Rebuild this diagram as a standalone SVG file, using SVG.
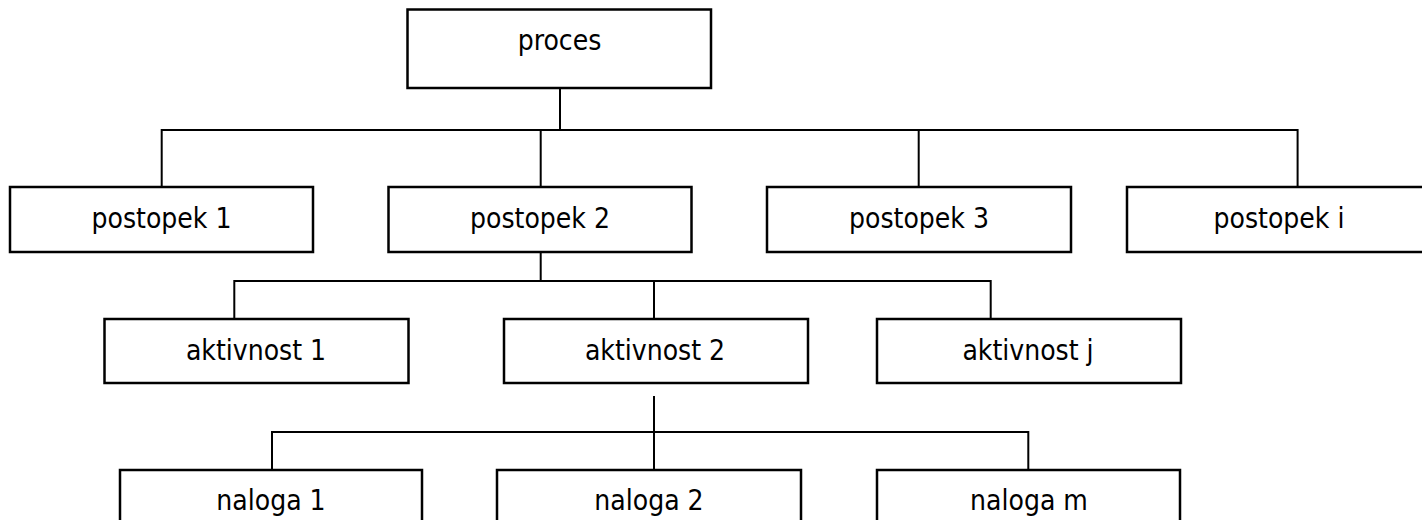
<svg xmlns="http://www.w3.org/2000/svg" width="1422" height="520" viewBox="0 0 1422 520">
<style>
.box{fill:#fff;stroke:#000;stroke-width:2.5}
.lbl{font-family:'DejaVu Sans Condensed','DejaVu Sans',sans-serif;font-stretch:condensed;font-size:28px;fill:#000;text-anchor:middle}
.con{fill:none;stroke:#000;stroke-width:2}
</style>
<rect width="1422" height="520" fill="#fff"/>
<g id="connectors">
<path class="con" d="M560,88 V130"/>
<path class="con" d="M161.7,187 V130 H1297.6 V187"/>
<path class="con" d="M540.7,130 V187"/>
<path class="con" d="M918.7,130 V187"/>
<path class="con" d="M540.7,252 V281"/>
<path class="con" d="M234.3,319 V281 H990.7 V319"/>
<path class="con" d="M654,281 V319"/>
<path class="con" d="M654,396 V470"/>
<path class="con" d="M272,470 V432 H1028.3 V470"/>
</g>
<g id="proces"><rect class="box" x="407.5" y="9.5" width="303.5" height="78.5"/><text class="lbl" x="559.5" y="50">proces</text></g>
<g id="postopek1"><rect class="box" x="10" y="187" width="303" height="65"/><text class="lbl" x="161.5" y="228">postopek 1</text></g>
<g id="postopek2"><rect class="box" x="388.5" y="187" width="303" height="65"/><text class="lbl" x="540" y="228">postopek 2</text></g>
<g id="postopek3"><rect class="box" x="767" y="187" width="304" height="65"/><text class="lbl" x="919" y="228">postopek 3</text></g>
<g id="postopeki"><rect class="box" x="1127" y="187" width="304" height="65"/><text class="lbl" x="1279" y="228">postopek i</text></g>
<g id="aktivnost1"><rect class="box" x="104.5" y="319" width="304" height="64"/><text class="lbl" x="256" y="360">aktivnost 1</text></g>
<g id="aktivnost2"><rect class="box" x="504" y="319" width="304" height="64"/><text class="lbl" x="655" y="360">aktivnost 2</text></g>
<g id="aktivnostj"><rect class="box" x="877" y="319" width="304" height="64"/><text class="lbl" x="1028" y="360">aktivnost j</text></g>
<g id="naloga1"><rect class="box" x="120" y="470" width="302" height="65"/><text class="lbl" x="271" y="510">naloga 1</text></g>
<g id="naloga2"><rect class="box" x="497" y="470" width="304" height="65"/><text class="lbl" x="649" y="510">naloga 2</text></g>
<g id="nalogam"><rect class="box" x="877" y="470" width="303" height="65"/><text class="lbl" x="1029" y="510">naloga m</text></g>
</svg>
